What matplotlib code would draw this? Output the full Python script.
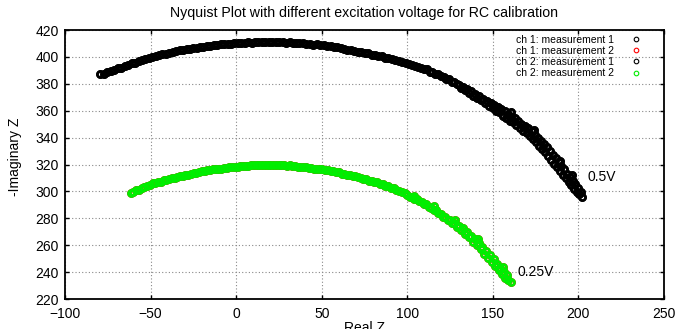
import matplotlib
matplotlib.use("Agg")
import matplotlib.pyplot as plt

plt.rcParams['font.family'] = ['Liberation Sans', 'DejaVu Sans']

# ---- data ----
# Upper arc (0.5V excitation): measurement 1
upper_re = [-79.5, -77.0, -75.2, -73.0, -71.1, -69.0, -67.2, -65.0, -63.1, -61.0, -59.2, -57.0, -55.1, -53.0, -51.2,
            -49.0, -47.1, -45.0, -43.2, -41.0, -39.1, -37.0, -35.2, -33.0, -31.1, -29.0, -27.2, -25.0, -23.1, -21.0,
            -19.2, -17.0, -15.1, -13.0, -11.2, -9.0, -7.1, -5.0, -3.2, -1.0, 1.0, 3.1, 5.0, 7.2, 9.0, 11.1, 13.0, 15.2, 17.0, 19.1,
            21.0, 23.2, 25.0, 27.1, 29.0, 31.2, 33.0, 35.1, 37.0, 39.2, 41.0, 43.1, 45.0, 47.2, 49.0, 51.1, 53.0, 55.2, 57.0, 59.1,
            61.0, 63.2, 65.0, 67.1, 69.0, 71.2, 73.0, 75.1, 77.0, 79.2, 81.0, 83.1, 85.0, 87.2, 89.0, 91.1, 93.0, 95.2, 97.0, 99.1,
            101.0, 102.8, 104.5, 106.2, 108.0, 109.7, 111.3, 113.0, 114.6, 116.3, 118.0, 119.6, 121.2, 122.8, 124.4, 126.0, 127.5, 129.0,
            130.5, 131.6, 132.8, 134.0, 135.1, 136.2, 137.4, 138.5, 139.6, 140.8, 141.9, 143.0, 144.2, 145.3, 146.4, 147.6, 148.7, 149.8,
            150.9, 151.9, 152.8, 153.8, 154.9, 155.8, 156.9, 157.8, 158.8, 159.9, 160.8, 161.9, 162.8, 163.7, 164.8, 165.8, 166.7, 167.8, 168.7, 169.8,
            170.7, 171.6, 172.6, 173.5, 174.4, 175.3, 176.2, 177.2, 178.0, 179.0, 179.8,
            180.7, 181.5, 182.4, 183.3, 184.2, 185.0, 185.9, 186.7, 187.6, 188.4, 189.3, 190.1,
            190.9, 191.7, 192.5, 193.4, 194.2, 195.0, 195.8, 196.6, 197.4, 198.2, 199.0, 199.8, 200.6, 201.3, 202.0,
            196.2, 189.5, 174.0, 160.5]
upper_im = [387.0, 387.6, 388.9, 389.5, 390.6, 391.6, 392.1, 393.4, 393.9, 395.2, 395.7, 396.8, 397.4, 398.5, 398.9,
            399.9, 400.7, 401.2, 401.9, 402.4, 403.2, 403.7, 404.1, 404.9, 405.2, 405.9, 406.1, 406.7, 406.8, 407.4,
            407.5, 408.0, 408.1, 408.7, 408.8, 409.3, 409.4, 409.8, 409.7, 410.2, 410.1, 410.5, 410.4, 410.8, 410.6, 411.0, 410.8, 411.3, 411.0, 411.4,
            411.1, 411.3, 410.9, 411.2, 410.7, 410.9, 410.4, 410.6, 410.1, 410.2, 409.7, 409.8, 409.2, 409.3, 408.7, 408.7, 408.0, 408.0, 407.2, 407.1,
            406.3, 406.0, 405.4, 404.9, 404.6, 403.7, 403.4, 402.7, 402.6, 401.7, 401.6, 400.7, 400.4, 399.4, 399.3, 398.1, 397.8, 396.7, 396.4, 395.3,
            394.9, 393.8, 393.6, 392.4, 392.0, 390.8, 390.7, 389.1, 388.9, 387.5, 387.1, 385.6, 385.3, 383.7, 383.4, 381.4, 381.2, 379.5,
            378.9, 376.8, 377.4, 375.2, 376.0, 373.4, 374.3, 371.2, 372.4, 369.3, 370.9, 367.6, 369.0, 365.9, 367.1, 363.8, 366.0, 362.1,
            364.2, 360.0, 362.6, 358.9, 361.3, 356.4, 359.5, 354.7, 357.8, 352.6, 355.6, 351.3, 354.4, 349.4, 352.0, 347.0, 350.2, 345.2, 348.6, 343.7,
            346.8, 341.0, 344.6, 338.6, 342.3, 336.9, 339.8, 334.0, 337.5, 331.2, 335.0,
            329.0, 332.8, 326.4, 329.7, 323.0, 327.2, 320.6, 324.5, 317.9, 321.8, 315.0, 318.7,
            312.3, 316.3, 310.0, 313.1, 306.9, 310.6, 304.4, 307.9, 301.8, 305.2, 299.7, 302.3, 297.9, 299.2, 296.0,
            312.0, 322.5, 345.5, 359.0]

# Lower arc (0.25V excitation): measurement 2
lower_re = [-61.6, -60.0, -58.4, -56.8, -55.2, -53.6, -52.0, -50.4, -48.8, -47.2, -45.6, -44.0, -42.4, -40.8, -39.2, -37.6,
            -36.0, -34.4, -32.8, -31.2, -29.6, -28.0, -26.4, -24.8, -23.2, -21.6, -20.0, -18.4, -16.8, -15.2, -13.6, -12.0,
            -10.4, -8.8, -7.2, -5.6, -4.0, -2.4, -0.8, 0.8, 2.4, 4.0, 5.6, 7.2, 8.8, 10.4, 12.0, 13.6, 15.2, 16.8, 18.4, 20.0,
            21.6, 23.2, 24.8, 26.4, 28.0, 29.6, 31.2, 32.8, 34.4, 36.0, 37.6, 39.2, 40.8, 42.4, 44.0, 45.6, 47.2, 48.8, 50.4,
            52.0, 53.6, 55.2, 56.8, 58.4, 60.0, 61.6, 63.2, 64.8, 66.4, 68.0, 69.6, 71.2, 72.8, 74.4, 76.0, 77.6, 79.2, 80.8,
            82.4, 84.0, 85.6, 87.2, 88.8, 90.4, 92.0, 93.6, 95.2, 96.8, 98.4, 100.0, 101.4, 102.8, 104.2, 105.6, 107.0, 108.4,
            109.8, 111.2, 112.6, 114.0, 115.4, 116.8, 118.2, 119.6, 121.0, 122.3, 123.6, 124.9, 126.2, 127.5, 128.8, 130.0,
            131.2, 132.4, 133.6, 134.8, 136.0, 137.2, 138.4, 139.5, 140.6, 141.7, 142.8, 143.9, 145.0, 146.1, 147.2, 148.3,
            149.4, 150.4, 151.4, 152.4, 153.4, 154.4, 155.4, 156.4, 157.3, 158.2, 159.0, 160.5,
            141.6, 156.2, 127.9, 115.7, 104.1]
lower_im = [299.0, 299.6, 300.7, 301.4, 302.3, 303.0, 304.1, 304.8, 305.9, 306.2, 307.0, 307.3, 308.2, 308.5, 309.4, 309.6,
            310.3, 310.7, 311.4, 311.6, 312.3, 312.5, 313.2, 313.4, 314.0, 314.2, 314.9, 315.0, 315.6, 315.7, 316.3, 316.4,
            316.9, 317.0, 317.5, 317.5, 318.0, 318.0, 318.5, 318.4, 318.9, 318.7, 319.2, 319.0, 319.5, 319.3, 319.7, 319.4, 319.8, 319.5, 319.8, 319.5,
            319.8, 319.4, 319.7, 319.3, 319.5, 319.1, 319.3, 318.8, 318.9, 318.4, 318.5, 318.0, 318.0, 317.5, 317.5, 316.9, 316.9, 316.3, 316.4,
            315.6, 315.7, 314.9, 315.0, 314.1, 314.2, 313.3, 313.3, 312.4, 312.4, 311.4, 311.4, 310.4, 310.3, 309.2, 309.2, 308.0, 308.0, 306.7,
            306.7, 305.4, 305.3, 304.0, 303.8, 302.5, 302.2, 300.9, 300.6, 299.2, 298.9, 297.4, 296.2, 295.9, 294.4, 294.2, 292.5, 292.4,
            290.8, 290.3, 288.6, 288.0, 286.3, 285.8, 283.8, 283.5, 281.3, 281.2, 278.9, 278.7, 276.3, 276.3, 273.6, 274.4,
            271.1, 272.5, 268.6, 269.9, 265.8, 267.0, 262.6, 264.5, 259.8, 261.9, 256.9, 258.8, 253.8, 255.6, 250.4, 252.6,
            247.2, 249.8, 244.5, 246.3, 241.2, 243.0, 238.4, 240.4, 235.5, 237.6, 233.8, 232.6,
            264.4, 243.6, 278.7, 289.1, 296.8]

# channel series (both channels coincide in the picture)
ch1_m1_re, ch1_m1_im = upper_re, upper_im
ch1_m2_re, ch1_m2_im = lower_re, lower_im
ch2_m1_re, ch2_m1_im = upper_re, upper_im
ch2_m2_re, ch2_m2_im = lower_re, lower_im

series_labels = ["ch 1: measurement 1", "ch 1: measurement 2",
                 "ch 2: measurement 1", "ch 2: measurement 2"]
series_colors = ["black", "#ff0000", "black", "#00ee00"]

annot_texts = ["0.5V", "0.25V"]
annot_re = [205.5, 164.5]
annot_im = [310.5, 240.0]

x_ticks = [-100, -50, 0, 50, 100, 150, 200, 250]
y_ticks = [220, 240, 260, 280, 300, 320, 340, 360, 380, 400, 420]

# ---- figure ----
fig = plt.figure(figsize=(6.77, 3.29), dpi=100)
ax = fig.add_axes([65/677, 1 - 299/329, 599/677, 269/329])

data = [(ch1_m1_re, ch1_m1_im), (ch1_m2_re, ch1_m2_im),
        (ch2_m1_re, ch2_m1_im), (ch2_m2_re, ch2_m2_im)]
lines = []
for (xs, ys), lab, col in zip(data, series_labels, series_colors):
    ax.plot(xs, ys, linestyle='none', marker='o', markersize=4.4,
            markerfacecolor='none', markeredgecolor=col, markeredgewidth=1.9)
    # thin-marker proxy for the legend
    h, = ax.plot([], [], linestyle='none', marker='o', markersize=3.3,
                 markerfacecolor='none', markeredgecolor=col,
                 markeredgewidth=0.8, label=lab)
    lines.append(h)

for t, xr, yi in zip(annot_texts, annot_re, annot_im):
    ax.text(xr, yi, t, fontsize=10, ha='left', va='center')

ax.set_xlim(-100, 250)
ax.set_ylim(220, 420)
ax.set_xticks(x_ticks)
ax.set_yticks(y_ticks)
ax.tick_params(direction='in', top=True, right=True, length=3, width=1,
               labelsize=10)
ax.tick_params(axis='x', pad=6)
ax.tick_params(axis='y', pad=4.5)
ax.grid(True, color='#888888', linestyle=(0, (1, 2)), linewidth=0.8)
ax.set_axisbelow(True)
for s in ax.spines.values():
    s.set_linewidth(1.3)

ax.set_title("Nyquist Plot with different excitation voltage for RC calibration",
             fontsize=10.2, pad=9)
ax.set_xlabel("Real Z", fontsize=10)
ax.set_ylabel("-Imaginary Z", fontsize=10)
ax.xaxis.set_label_coords(0.5, -0.083)
ax.yaxis.set_label_coords(-0.072, 0.53)

leg = ax.legend(handles=lines, loc='upper right', bbox_to_anchor=(0.962, 0.983),
                frameon=False, markerfirst=False, fontsize=7.5,
                labelspacing=0.12, handlelength=1.0, handletextpad=1.6,
                borderpad=0.0, borderaxespad=0.0, numpoints=1)

fig.savefig("out.png", dpi=100)
